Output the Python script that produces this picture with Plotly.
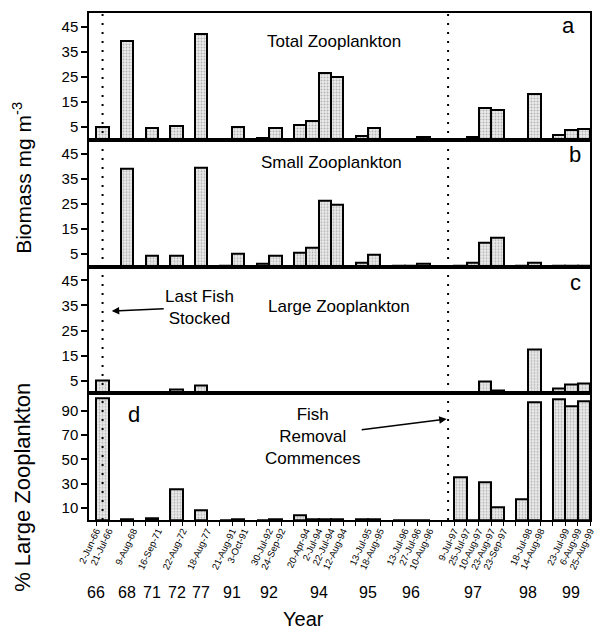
import plotly.graph_objects as go
from plotly.subplots import make_subplots

# ---------------- data ----------------
dates = ["2-Jun-66", "21-Jul-66", "9-Aug-68", "16-Sep-71", "22-Aug-72", "18-Aug-77",
         "21-Aug-91", "3-Oct-91", "30-Jul-92", "24-Sep-92",
         "20-Apr-94", "2-Jul-94", "22-Jul-94", "12-Aug-94",
         "13-Jul-95", "18-Aug-95", "13-Jul-96", "27-Jul-96", "10-Aug-96",
         "9-Jul-97", "25-Jul-97", "10-Aug-97", "23-Aug-97", "23-Sep-97",
         "18-Jul-98", "14-Aug-98", "23-Jul-99", "6-Aug-99", "25-Aug-99"]
# position of each sampling date on the (gapped) category axis
slot = [-1, 0, 2, 4, 6, 8, 10, 11, 13, 14, 16, 17, 18, 19, 21, 22, 24, 25, 26,
        28, 29, 30, 31, 32, 34, 35, 37, 38, 39]

total_zoo = [None, 5.2, 39.3, 4.6, 5.6, 42.0, 0.3, 5.0, 0.8, 4.6,
             5.8, 7.5, 26.7, 25.0, 1.5, 4.6, 0.3, 0.4, 1.2,
             None, 0.3, 1.0, 12.7, 12.0, 0.4, 18.2, 2.0, 4.0, 4.2]
small_zoo = [None, 0.1, 39.0, 4.3, 4.3, 39.4, 0.3, 5.0, 1.0, 4.4,
             5.6, 7.5, 26.3, 24.6, 1.5, 4.8, 0.3, 0.3, 1.2,
             None, 0.2, 1.5, 9.5, 11.5, 0.5, 1.3, 0.2, 0.5, 0.3]
large_zoo = [None, 5.2, 0.3, 0.1, 1.6, 3.0, 0.0, 0.1, 0.0, 0.1,
             0.3, 0.1, 0.2, 0.1, 0.1, 0.1, 0.0, 0.1, 0.1,
             None, 0.1, 0.0, 4.6, 1.2, 0.1, 17.5, 1.8, 3.6, 3.9]
pct_large = [None, 100, 0.5, 1.5, 25.5, 7.8, 0.0, 0.8, 0.2, 0.3,
             4.0, 0.5, 0.5, 0.3, 0.3, 0.3, 0.2, 0.2, 0.2,
             None, 35, 0.0, 31, 10.5, 17, 97, 99.5, 94, 97.5]

years = ["66", "68", "71", "72", "77", "91", "92", "94", "95", "96", "97", "98", "99"]
biomass_ticks = [5, 15, 25, 35, 45]
pct_ticks = [10, 30, 50, 70, 90]
event_dates = ["21-Jul-66", "9-Jul-97"]   # last fish stocked, fish removal commences

# ---------------- layout helpers ----------------
W, H = 597, 637
L, R, T, B = 89, 1, 13, 117
PW, PH = W - L - R, H - T - B
FONT = "Liberation Sans, Arial, Helvetica, sans-serif"


def px(X):
    return (X - L) / PW


def py(Y):
    return (H - B - Y) / PH


fig = make_subplots(rows=4, cols=1, shared_xaxes=True, vertical_spacing=0)

series = [total_zoo, small_zoo, large_zoo, pct_large]
for i, vals in enumerate(series, start=1):
    fig.add_trace(go.Bar(
        x=slot, y=vals, width=1.0,
        marker=dict(color="#e9e9e9",
                    line=dict(color="black", width=2),
                    pattern=dict(shape=".", fgcolor="#7a7a7a", bgcolor="#ececec",
                                 size=3, solidity=0.35)),
        showlegend=False, hoverinfo="skip"), row=i, col=1)

axis_common = dict(showline=True, linecolor="black", linewidth=1.5, mirror=True,
                   showgrid=False, zeroline=False)
for i in range(1, 5):
    fig.update_xaxes(range=[-1.1, 39.5], **axis_common, row=i, col=1)
    if i < 4:
        fig.update_yaxes(range=[0, 50.5], tickvals=biomass_ticks, row=i, col=1)
    else:
        fig.update_yaxes(range=[0, 104.5], tickvals=pct_ticks, row=i, col=1)
    fig.update_yaxes(ticks="outside", ticklen=6, tickwidth=1.5, tickcolor="black",
                     tickfont=dict(size=15, family=FONT, color="black"),
                     **axis_common, row=i, col=1)

fig.update_xaxes(tickvals=slot, ticktext=dates, tickangle=-65, ticks="",
                 ticklabelshift=6, ticklabeloverflow="allow",
                 tickfont=dict(size=9.5, family=FONT, color="black"),
                 minor=dict(ticks="outside", tick0=-0.5, dtick=1, ticklen=4,
                            tickwidth=1.2, tickcolor="black"),
                 row=4, col=1)
for i in range(1, 4):
    fig.update_xaxes(showticklabels=False, row=i, col=1)

# event dotted lines across all panels
for d in event_dates:
    xs = slot[dates.index(d)]
    fig.add_shape(type="line", xref="x", yref="paper", x0=xs, x1=xs, y0=0, y1=1,
                  line=dict(color="black", width=2, dash="2px,7px"), layer="above")

C = dict(xanchor="center", yanchor="middle", showarrow=False)
ann = []
# year labels under each group
for yr in years:
    xs = [s for s, d in zip(slot, dates) if d.endswith("-" + yr)]
    ann.append(dict(x=sum(xs) / len(xs), xref="x4", y=py(592), yref="paper",
                    text=yr, font=dict(size=16, family=FONT), **C))

ann.append(dict(x=px(306), y=py(619), xref="paper", yref="paper", text="Year",
                font=dict(size=20, family=FONT), **C))
ann.append(dict(x=px(21), y=py(178), xref="paper", yref="paper",
                text="Biomass mg m<sup>-3</sup>", textangle=-90,
                font=dict(size=21, family=FONT), **C))
ann.append(dict(x=px(21), y=py(487), xref="paper", yref="paper",
                text="% Large Zooplankton", textangle=-90,
                font=dict(size=22, family=FONT), **C))

# panel titles and letters
for txt, X, Y in [("Total Zooplankton", 337, 42), ("Small Zooplankton", 334, 163),
                  ("Large Zooplankton", 342, 306)]:
    ann.append(dict(x=px(X), y=py(Y), xref="paper", yref="paper", text=txt,
                    font=dict(size=17, family=FONT), **C))
for txt, X, Y in [("a", 574, 25), ("b", 581, 154), ("c", 581, 282), ("d", 135, 414)]:
    ann.append(dict(x=px(X), y=py(Y), xref="paper", yref="paper", text=txt,
                    font=dict(size=22, family=FONT), **C))

# "Last Fish Stocked" with arrow to the stocking line
ann.append(dict(x=px(112), y=py(311), xref="paper", yref="paper",
                text="Last Fish<br>Stocked", showarrow=True, ax=88, ay=-4,
                arrowhead=2, arrowsize=1, arrowwidth=1.5, arrowcolor="black",
                font=dict(size=17, family=FONT)))
# "Fish Removal Commences" with arrow to the removal line
ann.append(dict(x=px(451), y=py(419), xref="paper", yref="paper",
                text="Fish<br>Removal<br>Commences", showarrow=True, ax=-134, ay=17,
                arrowhead=2, arrowsize=1, arrowwidth=1.5, arrowcolor="black",
                font=dict(size=17, family=FONT)))

fig.update_layout(width=W, height=H, margin=dict(l=L, r=R, t=T, b=B),
                  plot_bgcolor="white", paper_bgcolor="white", bargap=0,
                  annotations=ann, font=dict(family=FONT, color="black"))

fig.write_html("out.html", config={"displayModeBar": False},
               post_script="document.body.style.margin='0';")
